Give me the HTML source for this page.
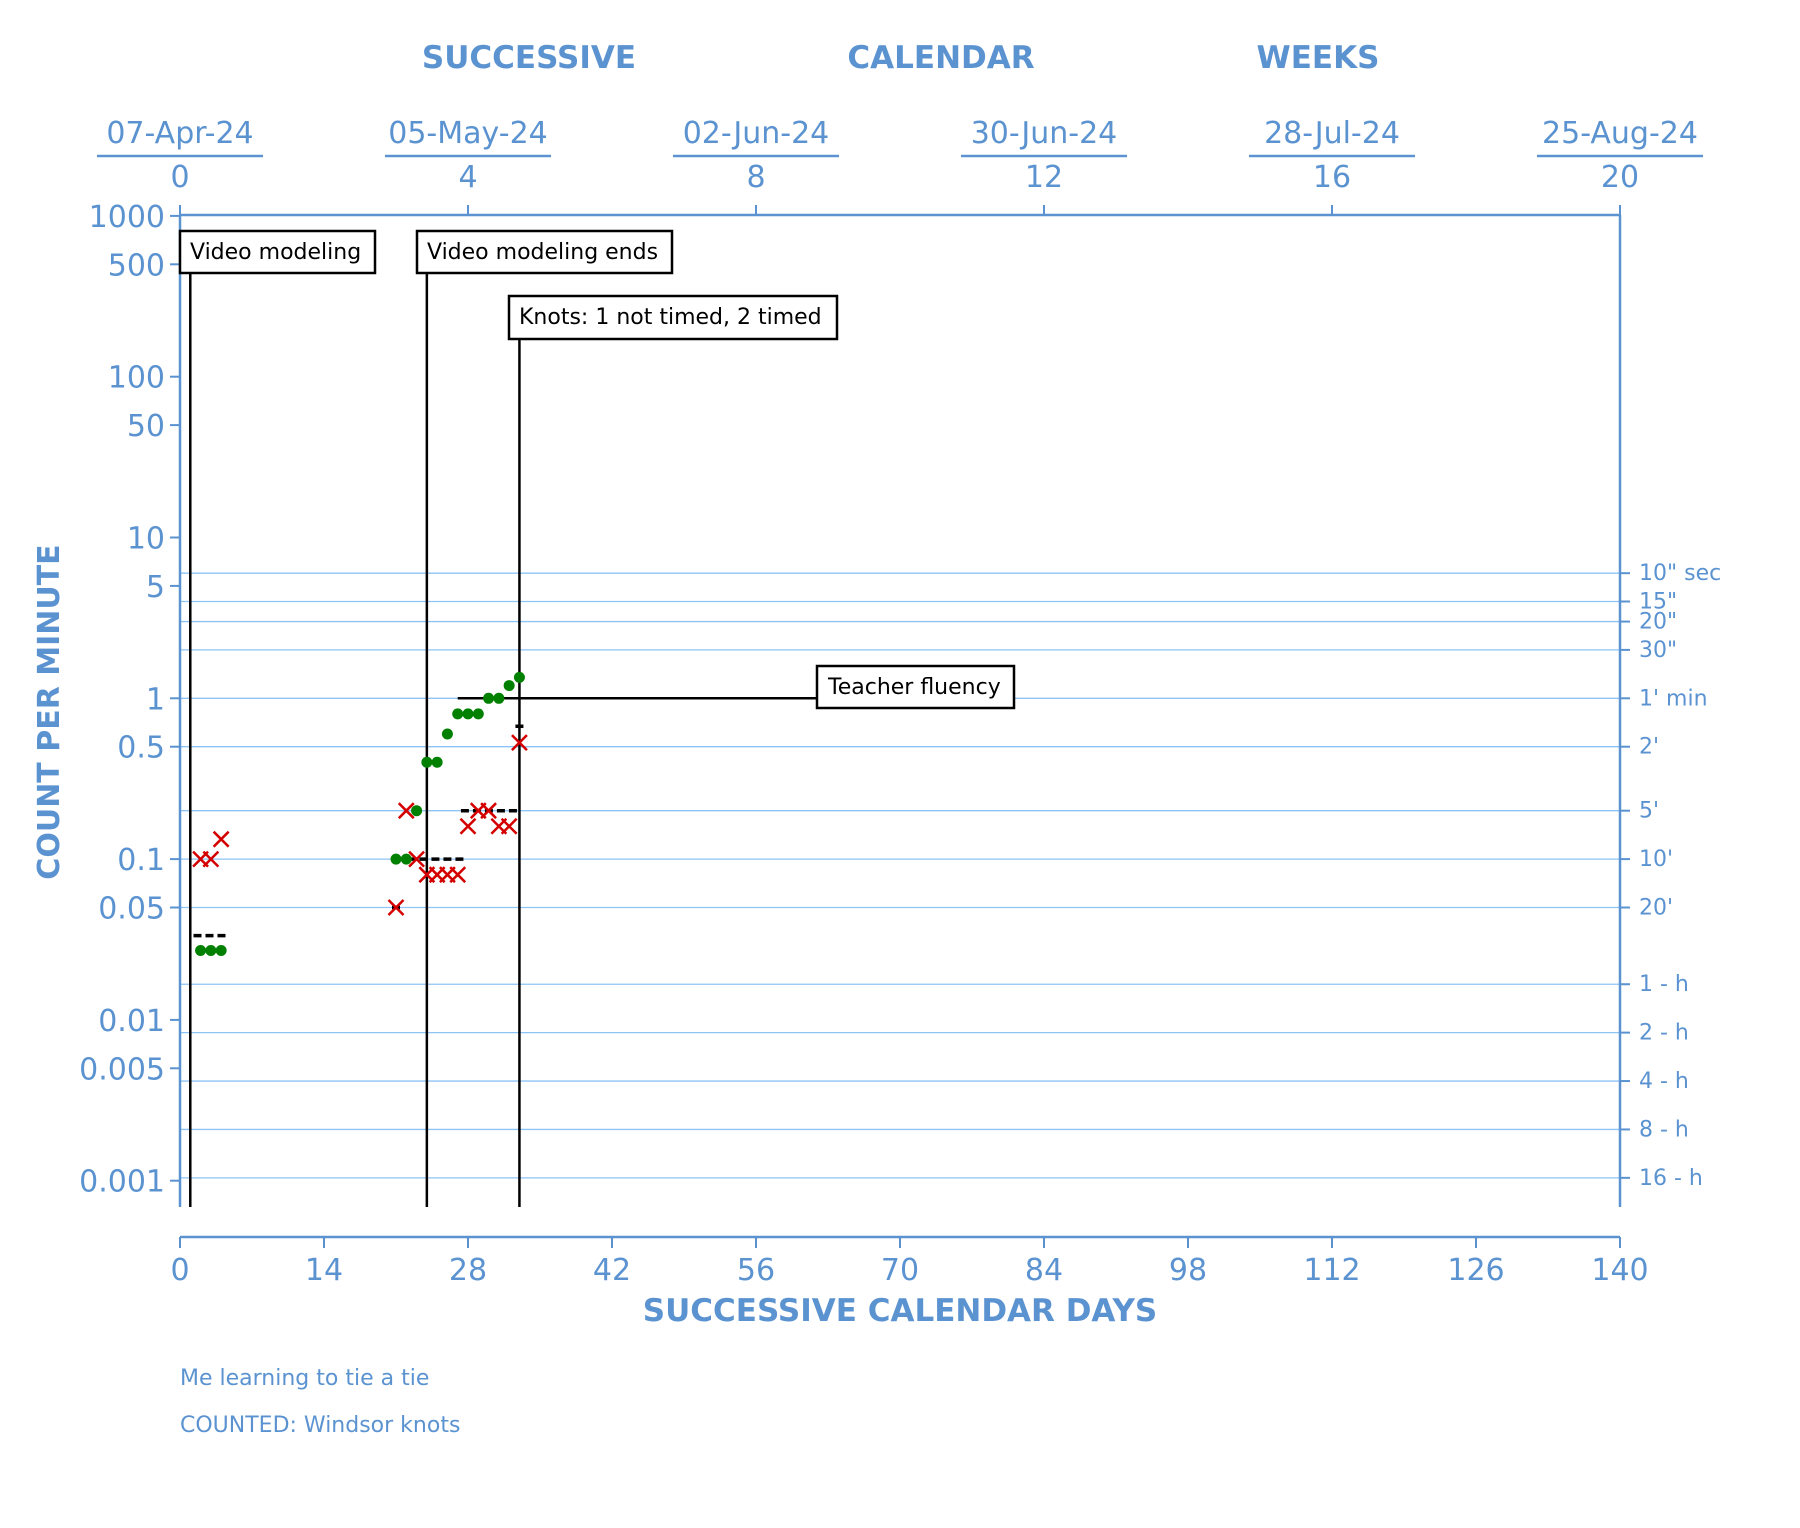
<!DOCTYPE html>
<html><head><meta charset="utf-8"><style>
html,body{margin:0;padding:0;background:#fff;}
svg{display:block;}
text{font-family:"DejaVu Sans","Liberation Sans",sans-serif;}
</style></head><body>
<svg id="chart" width="1800" height="1528" viewBox="0 0 1800 1528" xmlns="http://www.w3.org/2000/svg"></svg>
<script>
// ---- data ----
const corrDays = [2,3,4,21,22,23,24,25,26,27,28,29,30,31,32,33];
const corrVals = [0.027,0.027,0.027,0.1,0.1,0.2,0.4,0.4,0.6,0.8,0.8,0.8,1,1,1.2,1.35];
const errDays = [2,3,4,21,22,23,24,25,26,27,28,29,30,31,32,33];
const errVals = [0.1,0.1,0.133,0.05,0.2,0.1,0.08,0.08,0.08,0.08,0.16,0.2,0.2,0.16,0.16,0.53];
const medStart = [1.7,21,22.5,27.7,33];
const medEnd = [4.3,21,27.5,32.5,33];
const medVals = [0.0334,0.05,0.1,0.2,0.67];
const phaseDays = [1,24,33];
const phaseLabels = ["Video modeling","Video modeling ends","Knots: 1 not timed, 2 timed"];
const yTickVals = [1000,500,100,50,10,5,1,0.5,0.1,0.05,0.01,0.005,0.001];
const yTickLabels = ["1000","500","100","50","10","5","1","0.5","0.1","0.05","0.01","0.005","0.001"];
const rightVals = [6,4,3,2,1,0.5,0.2,0.1,0.05,1/60,1/120,1/240,1/480,1/960];
const rightLabels = ['10" sec','15"','20"','30"',"1' min","2'","5'","10'","20'","1 - h","2 - h","4 - h","8 - h","16 - h"];
const xTicks = [0,14,28,42,56,70,84,98,112,126,140];
const weekTicks = [0,4,8,12,16,20];
const dateLabels = ["07-Apr-24","05-May-24","02-Jun-24","30-Jun-24","28-Jul-24","25-Aug-24"];

// ---- scales ----
const X0=180, X1=1620, Y_TOP=215, Y_BOT=1207;
const x = d => X0 + d*(X1-X0)/140;
const y = v => 698.3 - 160.8*Math.log10(v);
const BLUE="#5b93d1", GRID="#8ec4f5";
const svg=document.getElementById('chart');
const NS="http://www.w3.org/2000/svg";
function mk(tag,attrs,txt){const e=document.createElementNS(NS,tag);for(const k in attrs)e.setAttribute(k,attrs[k]);if(txt!==undefined)e.textContent=txt;svg.appendChild(e);return e;}

rightVals.forEach((v,i)=>{
  const g=mk('line',{x1:X0,x2:X1,y1:y(v),y2:y(v),stroke:GRID,'stroke-width':1.3});
  
  
  const t=mk('line',{x1:X1,x2:X1+10,y1:y(v),y2:y(v),stroke:BLUE,'stroke-width':2});
  
  
  const l=mk('text',{x:X1+19,y:y(v)+7,fill:BLUE,'font-size':22},rightLabels[i]);
  
  
});
[[X0,Y_TOP,X0,Y_BOT],[X1,Y_TOP,X1,Y_BOT],[X0,Y_TOP,X1,Y_TOP],[X0,1237,X1,1237]].forEach(a=>{
  const e=mk('line',{x1:a[0],y1:a[1],x2:a[2],y2:a[3],stroke:BLUE,'stroke-width':2.5});
  
  
});
yTickVals.forEach((v,i)=>{
  const t=mk('line',{x1:X0-10,x2:X0,y1:y(v),y2:y(v),stroke:BLUE,'stroke-width':2});
  
  
  const l=mk('text',{x:X0-15,y:y(v)+11,fill:BLUE,'font-size':30,'text-anchor':'end'},yTickLabels[i]);
  
  
});
xTicks.forEach(d=>{
  const t=mk('line',{x1:x(d),x2:x(d),y1:1237,y2:1248,stroke:BLUE,'stroke-width':2});
  
  
  const l=mk('text',{x:x(d),y:1280,fill:BLUE,'font-size':30,'text-anchor':'middle'},String(d));
  
  
});
weekTicks.forEach((w,i)=>{
  const xx=x(w*7);
  const t=mk('line',{x1:xx,x2:xx,y1:Y_TOP-10,y2:Y_TOP,stroke:BLUE,'stroke-width':2});
  
  
  const l=mk('text',{x:xx,y:187,fill:BLUE,'font-size':30,'text-anchor':'middle'},String(w));
  
  
  const dl=mk('text',{x:xx,y:143,fill:BLUE,'font-size':30,'text-anchor':'middle'},dateLabels[i]);
  
  
  const u=mk('line',{x1:xx-83,x2:xx+83,y1:156,y2:156,stroke:BLUE,'stroke-width':2.5});
  
  
});
[["SUCCESSIVE",529],["CALENDAR",941],["WEEKS",1318]].forEach(p=>{
  const e=mk('text',{x:p[1],y:68,fill:BLUE,'font-size':31,'font-weight':'bold','text-anchor':'middle'},p[0]);
  
  
});
let e=mk('text',{x:900,y:1321,fill:BLUE,'font-size':31,'font-weight':'bold','text-anchor':'middle'},"SUCCESSIVE CALENDAR DAYS");


e=mk('text',{x:0,y:0,fill:BLUE,'font-size':30,'font-weight':'bold','text-anchor':'middle',transform:'translate(59,712) rotate(-90)'},"COUNT PER MINUTE");


e=mk('text',{x:180,y:1385,fill:BLUE,'font-size':22},"Me learning to tie a tie");


e=mk('text',{x:180,y:1432,fill:BLUE,'font-size':22},"COUNTED: Windsor knots");



const boxes=[[180,231,195,42],[417,231,255,42],[509,296,328,43]];
phaseDays.forEach((d,i)=>{
  const b=boxes[i];
  const l=mk('line',{x1:x(d),x2:x(d),y1:b[1]+b[3],y2:Y_BOT,stroke:'#000','stroke-width':2.5});
  
  
  const r=mk('rect',{x:b[0],y:b[1],width:b[2],height:b[3],fill:'#fff',stroke:'#000','stroke-width':2.5});
  
  
  const t=mk('text',{x:b[0]+10,y:b[1]+28,fill:'#000','font-size':22},phaseLabels[i]);
  
  
});
e=mk('line',{x1:x(27),x2:817,y1:y(1),y2:y(1),stroke:'#000','stroke-width':2.5});


e=mk('rect',{x:817,y:666,width:197,height:42,fill:'#fff',stroke:'#000','stroke-width':2.5});


e=mk('text',{x:828,y:694,fill:'#000','font-size':22},"Teacher fluency");



medVals.forEach((v,i)=>{
  const a=x(medStart[i])-4, b=x(medEnd[i])+4;
  const m=mk('line',{x1:a,x2:b,y1:y(v),y2:y(v),stroke:'#000','stroke-width':3.5,'stroke-dasharray':'8,4'});
  
  
});
corrVals.forEach((v,i)=>{
  const c=mk('circle',{cx:x(corrDays[i]),cy:y(v),r:5.5,fill:'#008000'});
  
  
});
errVals.forEach((v,i)=>{
  const cx=x(errDays[i]), cy=y(v), s=7.5;
  const p=mk('path',{d:`M${cx-s},${cy-s}L${cx+s},${cy+s}M${cx-s},${cy+s}L${cx+s},${cy-s}`,stroke:'#d40000','stroke-width':2.5,fill:'none'});
  
  
});
</script>
</body></html>
